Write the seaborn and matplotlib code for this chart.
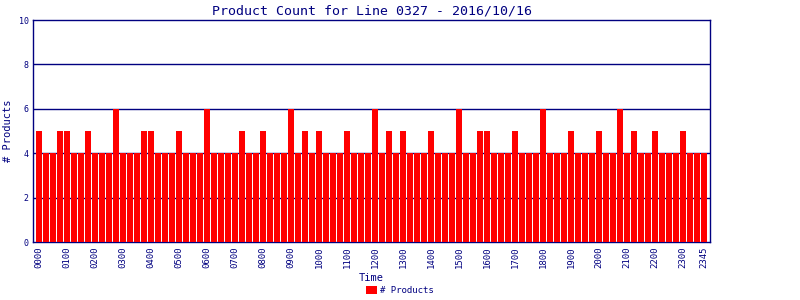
import matplotlib
matplotlib.use("Agg")
import matplotlib.pyplot as plt
import seaborn as sns
import pandas as pd

times = [f"{h:02d}{m:02d}" for h in range(24) for m in (0, 15, 30, 45)]
counts = [5, 4, 4, 5, 5, 4, 4, 5, 4, 4, 4, 6, 4, 4, 4, 5,
          5, 4, 4, 4, 5, 4, 4, 4, 6, 4, 4, 4, 4, 5, 4, 4,
          5, 4, 4, 4, 6, 4, 5, 4, 5, 4, 4, 4, 5, 4, 4, 4,
          6, 4, 5, 4, 5, 4, 4, 4, 5, 4, 4, 4, 6, 4, 4, 5,
          5, 4, 4, 4, 5, 4, 4, 4, 6, 4, 4, 4, 5, 4, 4, 4,
          5, 4, 4, 6, 4, 5, 4, 4, 5, 4, 4, 4, 5, 4, 4, 4]
tick_labels = [f"{h:02d}00" for h in range(24)] + ["2345"]
yticks = [0, 2, 4, 6, 8, 10]

title = "Product Count for Line 0327 - 2016/10/16"
series_name = "# Products"

navy = "#000080"
sns.set_theme(style="white")
plt.rcParams["font.family"] = ["DejaVu Sans Mono", "DejaVu Sans"]

df = pd.DataFrame({"Time": times, "Count": counts})

fig = plt.figure(figsize=(8, 3), dpi=100)
ax = fig.add_axes([33 / 800, 58 / 300, 677 / 800, 222 / 300])

sns.barplot(data=df, x="Time", y="Count", color="#ff0000", saturation=1,
            width=0.86, label=series_name, ax=ax, zorder=3, linewidth=0)
for p in ax.patches:
    p.set_antialiased(False)

ax.set_ylim(0, 10)
ax.set_xlim(-0.86, len(times) - 1 + 0.86)
ax.set_yticks(yticks)
ax.set_yticklabels([str(v) for v in yticks], fontsize=6, color=navy)
tick_pos = [times.index(t) for t in tick_labels]
ax.set_xticks(tick_pos)
ax.set_xticklabels(tick_labels, rotation=90, fontsize=6.5, color=navy)
ax.tick_params(axis="both", length=0, pad=3)

for v in [2, 4, 6, 8]:
    ax.axhline(v, color=navy, linewidth=1, zorder=1)
for s in ax.spines.values():
    s.set_color(navy)
    s.set_linewidth(1)
    s.set_visible(True)

ax.set_title(title, fontsize=9.5, color=navy, pad=4)
ax.set_xlabel("Time", fontsize=7.5, color=navy, labelpad=4)
ax.set_ylabel(series_name, fontsize=7.5, color=navy, labelpad=4)

if ax.get_legend() is not None:
    ax.get_legend().remove()
handles, labels = ax.get_legend_handles_labels()
for h in handles:
    try:
        h.set_edgecolor("#808080")
        h.set_linewidth(1)
    except Exception:
        pass
fig.legend(handles, labels, loc="lower center", bbox_to_anchor=(0.5, -0.01),
           frameon=False, fontsize=6.5, handlelength=1.2, handleheight=0.9,
           handletextpad=0.3, labelcolor=navy)

fig.savefig("out.png", dpi=100, facecolor="white")
